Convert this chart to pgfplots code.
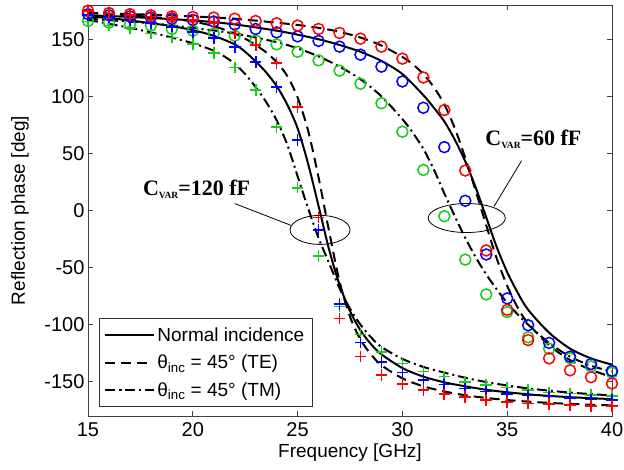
\documentclass[border=0pt]{standalone}
\usepackage{pgfplots}
\pgfplotsset{compat=1.18}
\usepackage{pgfplotstable}
\usepackage{fontspec}
\setmainfont{Liberation Sans}
\newfontfamily\annfont{Liberation Serif}

\definecolor{mred}{rgb}{1,0,0}
\definecolor{mblue}{rgb}{0,0,1}
\definecolor{mgreen}{rgb}{0.1,0.8,0.1}

% measured points: circles = 60 fF, plus = 120 fF
% r = TE 45deg, b = normal, g = TM 45deg
\pgfplotstableread{
f   rc60   bc60   gc60   rp120  bp120  gp120
15  175    172    166    175    171    165.5
16  173    171    164.5  172.5  169.5  162
17  172    170    163    171    167    160
18  171    169    162    170    164    155
19  170    168    159    168.5  161    151.5
20  169.5  167    157.5  167    156.5  145.7
21  169    165.5  155    164.5  151    138
22  168    163    153    155    143    125.3
23  166    159    149    145    130    105.5
24  164    156    145.5  129    108    73
25  162    152.5  139    90.5   61.5   20
26  159    148.5  131.5  -6     -17    -40
27  155.5  143.5  122.5  -94.5  -82    -84
28  150.5  136.5  111    -128   -115.5 -108.5
29  143.5  126    94     -144   -132.5 -124
30  133    113    69     -152   -142   -134
31  116.5  90     35.5   -157.5 -148.5 -141
32  88     55.5   -5     -161   -152.5 -145.5
33  35     8.5    -43    -163.5 -156   -150
34  -35    -38.5  -73.5  -166   -158.5 -153
35  -87    -77    -89    -167.5 -160.5 -155
36  -113.5 -100.5 -111   -169   -162   -157.3
37  -129.5 -116   -121   -169.5 -163   -159.3
38  -140   -128   -129.5 -170.5 -164.5 -160.3
39  -146   -134.5 -136.5 -171   -165.5 -161.3
40  -151.5 -140.5 -142   -171   -166   -162.3
}\meas

\begin{document}
\begin{tikzpicture}
\begin{axis}[
  width=524pt, height=411pt, scale only axis,
  xmin=15, xmax=40, ymin=-180, ymax=180,
  xtick={15,20,...,40}, ytick={-150,-100,...,150},
  tick align=inside, major tick length=5pt,
  axis line style={black!75, line width=0.8pt},
  every tick/.style={black!75, line width=0.8pt},
  tick label style={font=\fontsize{20}{23}\selectfont},
  xticklabel style={yshift=-3pt},
  /pgf/number format/assume math mode=true,
  xlabel={Frequency [GHz]},
  ylabel={Reflection phase [deg]},
  every axis x label/.style={at={(axis description cs:0.5,0)}, anchor=base,
    yshift=-41pt, font=\fontsize{19}{22}\selectfont},
  every axis y label/.style={at={(axis description cs:-0.1298,0.5)}, rotate=90,
    anchor=center, inner sep=0pt, font=\fontsize{19}{22}\selectfont},
  legend cell align=left,
  legend style={at={(0.021,0.022)}, anchor=south west, draw=black!80,
    line width=0.8pt, font=\fontsize{19}{22}\selectfont,
    inner xsep=5pt, inner ysep=8pt, row sep=10pt,
    nodes={inner xsep=3pt, inner ysep=1pt}},
  legend image code/.code={\draw[#1] plot coordinates {(0pt,0pt) (48pt,0pt)};},
  every axis plot/.append style={line width=2pt},
]
% 60 fF lines
\addplot[black, smooth] coordinates {(15,171) (17,169.5) (20,166.5) (22,163) (24,157.5) (25,154) (26,150) (27,145) (28,139) (29,131) (30,119.5) (31,101) (31.5,90) (32,78) (32.5,62) (33,43) (33.5,20) (34,-6) (34.5,-32) (35,-54) (35.5,-72) (36,-87) (37,-107) (38,-121) (39,-129.5) (40,-135)};
\addlegendentry{Normal incidence}
\addplot[black, smooth, dash pattern=on 10pt off 6pt] coordinates {(15,173) (18,171.5) (20,170) (22,168) (24,164.5) (25,162.5) (26,160) (27,156.5) (28,151.5) (29,144.5) (30,134.5) (30.5,128) (31,119.5) (31.5,108) (32,93) (32.5,72) (33,46) (33.5,17) (34,-13) (34.5,-42) (35,-66) (35.5,-85) (36,-99) (37,-118) (38,-131) (39,-139.5) (40,-146)};
\addlegendentry{θ\textsubscript{inc} = 45° (TE)}
\addplot[black, smooth, dash pattern=on 10pt off 4pt on 2pt off 4pt] coordinates {(15,168) (18,164) (20,160) (22,155) (24,147.5) (25,142) (26,135) (27,126) (28,115) (29,100) (30,80) (30.5,68) (31,54) (31.5,36) (32,15) (32.5,-5) (33,-24) (33.5,-41) (34,-56) (34.5,-69) (35,-81) (35.5,-91) (36,-100) (37,-116) (38,-128) (39,-136) (40,-141)};
\addlegendentry{θ\textsubscript{inc} = 45° (TM)}
% 120 fF lines
\addplot[black, smooth, forget plot] coordinates {(15,170) (16,168.5) (17,166.5) (18,164) (19,161.5) (20,158) (21,153) (22,145.5) (22.5,139) (23,130.5) (23.5,121) (24,109) (24.5,93) (25,72) (25.5,41) (26,4) (26.5,-34) (27,-65) (27.5,-88) (28,-105) (28.5,-117) (29,-126) (30,-138) (31,-145.5) (32,-150.5) (33,-154) (34,-157) (35,-159.2) (36,-161) (37,-162.4) (38,-163.5) (39,-164.4) (40,-165.2)};
\addplot[black, smooth, forget plot, dash pattern=on 10pt off 6pt] coordinates {(15,173) (16,172) (17,171) (18,169.5) (19,168) (20,165.5) (21,161.5) (22,155) (22.5,150.5) (23,145) (23.5,138.5) (24,130) (24.5,118) (25,99) (25.5,70) (26,29) (26.5,-18) (27,-62) (27.5,-93) (28,-113) (28.5,-126) (29,-135.5) (30,-147) (31,-154) (32,-158.5) (33,-161.8) (34,-164.2) (35,-166) (36,-167.4) (37,-168.5) (38,-169.4) (39,-170.1) (40,-170.7)};
\addplot[black, smooth, forget plot, dash pattern=on 10pt off 4pt on 2pt off 4pt] coordinates {(15,167) (16,163.5) (17,160) (18,156) (19,151.5) (20,146.5) (21,140) (21.5,135) (22,128.5) (22.5,119.5) (23,108) (23.5,95) (24,79) (24.5,58) (25,30) (25.5,2) (26,-24) (26.5,-46) (27,-68) (27.5,-86) (28,-100) (28.5,-111) (29,-119.5) (30,-130) (31,-137) (32,-142) (33,-146.5) (34,-150.3) (35,-153.3) (36,-155.8) (37,-157.8) (38,-159.5) (39,-160.8) (40,-162)};
% markers
\pgfplotsset{cmark/.style={only marks, forget plot, mark=o, mark size=5.5pt, line width=1.5pt, #1},
             pmark/.style={only marks, forget plot, mark=+, mark size=5.8pt, line width=1.7pt, #1}}
\addplot[cmark=mgreen] table[x=f, y=gc60] {\meas};
\addplot[cmark=mblue]  table[x=f, y=bc60] {\meas};
\addplot[cmark=mred]   table[x=f, y=rc60] {\meas};
\addplot[pmark=mgreen] table[x=f, y=gp120] {\meas};
\addplot[pmark=mblue]  table[x=f, y=bp120] {\meas};
\addplot[pmark=mred]   table[x=f, y=rp120] {\meas};
% annotations
\draw[black, line width=0.8pt] (axis cs:26.07,-17) ellipse [x radius=1.43, y radius=12.7];
\draw[black, line width=0.8pt] (axis cs:33.07,-6.6) ellipse [x radius=1.84, y radius=12.7];
\draw[black, line width=0.8pt] (axis cs:22.0,6.1) -- (axis cs:24.68,-13);
\draw[black, line width=0.8pt] (axis cs:35.69,43.7) -- (axis cs:34.37,3.5);
\node[font=\fontsize{22}{24}\selectfont\annfont\bfseries] at (axis cs:20.18,18.5)
  {C\raisebox{-0.3ex}{\fontsize{9.5}{10}\selectfont VAR}=120 fF};
\node[font=\fontsize{22}{24}\selectfont\annfont\bfseries] at (axis cs:36.25,62.5)
  {C\raisebox{-0.3ex}{\fontsize{9.5}{10}\selectfont VAR}=60 fF};
\end{axis}
\pgfresetboundingbox
\path ([xshift=-88pt,yshift=-53pt]current axis.south west) rectangle
      ([xshift=12pt,yshift=5pt]current axis.north east);
\end{tikzpicture}
\end{document}
